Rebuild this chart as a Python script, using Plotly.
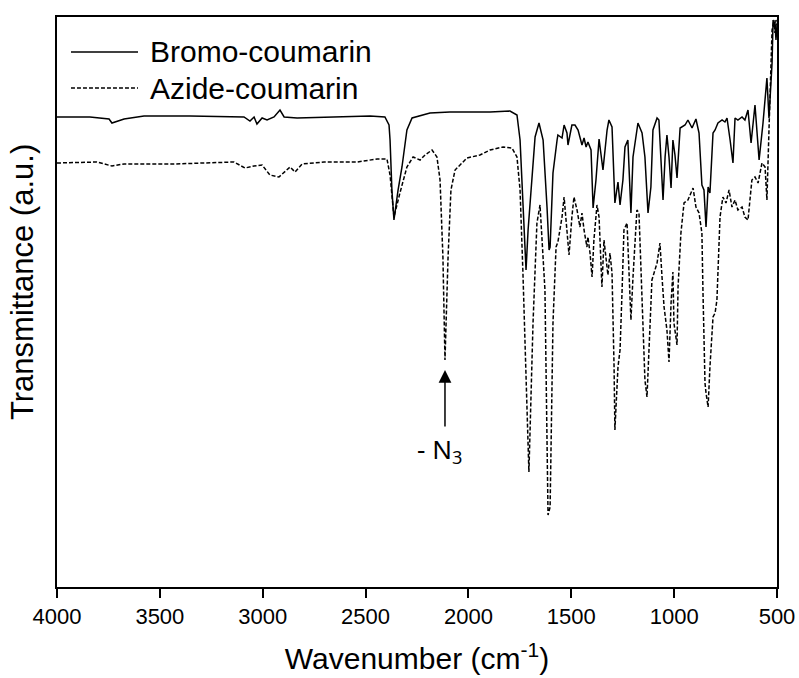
import plotly.graph_objects as go

# Bromo-coumarin (solid) — wavenumber (cm-1) and transmittance (a.u.)
bromo_wn = [4000, 3840, 3747, 3733, 3674, 3577, 3354, 3091, 3062, 3042, 3028, 3003, 2979, 2945, 2916,
            2896, 2833, 2624, 2478, 2406, 2386, 2381, 2372, 2362, 2342, 2323, 2299, 2274, 2187, 2090,
            1992, 1895, 1798, 1764, 1749, 1735, 1720, 1710, 1691, 1676, 1657, 1637, 1618, 1608, 1603,
            1589, 1569, 1565, 1545, 1535, 1521, 1516, 1497, 1482, 1467, 1448, 1438, 1428, 1419, 1404,
            1394, 1380, 1365, 1346, 1326, 1317, 1302, 1288, 1273, 1263, 1249, 1239, 1225, 1210, 1200,
            1176, 1156, 1142, 1127, 1113, 1103, 1083, 1074, 1054, 1044, 1035, 1025, 1015, 1006, 996,
            986, 971, 947, 933, 913, 894, 879, 865, 855, 845, 835, 826, 811, 801, 787, 767, 753, 743,
            728, 714, 704, 690, 670, 656, 641, 626, 607, 587, 568, 549, 539, 524, 519, 515, 510, 505, 500]
bromo_t = [468, 468, 466, 462, 466, 469, 469, 468, 464, 468, 461, 467, 465, 468, 475,
           468, 467, 468, 469, 468, 460, 445, 395, 365, 395, 418, 455, 467, 472, 473,
           473, 473, 474, 470, 445, 378, 315, 355, 412, 448, 462, 445, 378, 335, 338,
           412, 445, 450, 447, 460, 452, 440, 460, 460, 455, 440, 447, 438, 443, 435,
           377, 405, 446, 415, 455, 465, 458, 382, 403, 380, 405, 438, 445, 372, 428,
           462, 452, 428, 372, 398, 455, 467, 465, 385, 428, 450, 428, 397, 445, 430,
           407, 457, 460, 465, 457, 466, 452, 400, 395, 358, 398, 392, 452, 455, 462, 465, 463, 467,
           445, 422, 467, 465, 468, 465, 475, 442, 480, 425, 462, 507, 467, 522, 565, 558, 563, 545, 560]

# Azide-coumarin (dashed)
azide_wn = [4000, 3806, 3733, 3674, 3431, 3222, 3140, 3086, 3042, 3003, 2965, 2921, 2882, 2867, 2843,
            2809, 2702, 2542, 2444, 2396, 2381, 2372, 2362, 2333, 2299, 2269, 2235, 2211, 2177, 2153,
            2138, 2124, 2114, 2099, 2085, 2065, 2007, 1944, 1895, 1832, 1788, 1764, 1749, 1735, 1706,
            1686, 1667, 1652, 1628, 1613, 1603, 1589, 1574, 1565, 1545, 1535, 1521, 1511, 1497, 1487,
            1472, 1458, 1448, 1438, 1424, 1419, 1409, 1399, 1390, 1375, 1365, 1351, 1341, 1331, 1322,
            1312, 1302, 1292, 1288, 1273, 1263, 1253, 1244, 1229, 1225, 1210, 1200, 1181, 1171, 1156,
            1142, 1132, 1122, 1108, 1083, 1069, 1059, 1049, 1035, 1025, 1015, 1006, 1001, 986, 981,
            967, 952, 933, 908, 894, 879, 865, 860, 850, 845, 835, 826, 811, 801, 792, 777, 763, 748,
            733, 719, 704, 690, 670, 656, 641, 622, 607, 592, 573, 558, 549, 539, 529, 524, 515, 510, 505, 500]
azide_t = [422, 423, 419, 421, 421, 422, 423, 417, 419, 420, 410, 408, 415, 418, 413,
           421, 423, 423, 426, 426, 410, 390, 368, 392, 418, 428, 425, 430, 435, 428,
           405, 328, 225, 328, 395, 415, 427, 430, 435, 438, 437, 428, 395, 312, 113,
           262, 362, 380, 295, 70, 78, 262, 338, 343, 368, 388, 355, 330, 368, 388,
           375, 358, 372, 355, 338, 348, 332, 308, 345, 380, 368, 298, 345, 328, 310,
           332, 312, 218, 155, 218, 235, 295, 355, 362, 338, 265, 308, 375, 372, 288,
           205, 188, 242, 305, 322, 342, 308, 278, 255, 223, 282, 313, 262, 240, 298,
           352, 382, 385, 397, 378, 372, 352, 295, 202, 192, 178, 218, 268, 272, 285, 368, 388, 382,
           395, 378, 385, 375, 378, 368, 365, 405, 408, 402, 422, 418, 385, 455, 515, 555, 565, 552, 565, 560]

x_ticks = [4000, 3500, 3000, 2500, 2000, 1500, 1000, 500]
series_names = ["Bromo-coumarin", "Azide-coumarin"]
series_dash = ["solid", "4px,2px"]

FONT = "Liberation Sans, Arial, sans-serif"

fig = go.Figure()
fig.add_trace(go.Scatter(x=bromo_wn, y=bromo_t, mode="lines", name=series_names[0], showlegend=False,
                         line=dict(color="black", width=1.5, dash=series_dash[0])))
fig.add_trace(go.Scatter(x=azide_wn, y=azide_t, mode="lines", name=series_names[1], showlegend=False,
                         line=dict(color="black", width=1.5, dash=series_dash[1])))

# Legend (drawn in paper coordinates)
legend_y = [0.9386, 0.8754]
for name, dash, ly in zip(series_names, series_dash, legend_y):
    fig.add_shape(type="line", xref="paper", yref="paper", x0=0.0194, x1=0.1125, y0=ly, y1=ly,
                  line=dict(color="black", width=1.5, dash=dash))
    fig.add_annotation(xref="paper", yref="paper", x=0.1264, y=ly, xanchor="left", yanchor="middle",
                       text=name, showarrow=False, font=dict(family=FONT, size=30, color="black"))

# N3 arrow and label
fig.add_annotation(x=2114, y=215, ax=2114, ay=157, xref="x", yref="y", axref="x", ayref="y",
                   text="", showarrow=True, arrowhead=2, arrowsize=1.7, arrowwidth=1.5,
                   arrowcolor="black")
fig.add_annotation(x=2140, y=135, xref="x", yref="y", text="- N<sub>3</sub>", showarrow=False,
                   font=dict(family="Noto Sans, Liberation Sans, sans-serif", size=26, color="black"))

# Y-axis title
fig.add_annotation(xref="paper", yref="paper", x=0, y=0.5, xshift=-35, yshift=20, textangle=-90,
                   xanchor="center", yanchor="middle", text="Transmittance (a.u.)", showarrow=False,
                   font=dict(family=FONT, size=31, color="black"))

fig.update_layout(
    width=799, height=678,
    margin=dict(l=57, r=22, t=17, b=91),
    paper_bgcolor="white", plot_bgcolor="white",
    font=dict(family=FONT, color="black"),
    showlegend=False,
    xaxis=dict(range=[4000, 500], tickvals=x_ticks, ticks="outside", ticklen=9, tickwidth=2,
               tickcolor="black", showline=True, linecolor="black", linewidth=2, mirror=True,
               showgrid=False, zeroline=False, automargin=False,
               tickfont=dict(family=FONT, size=22, color="black"),
               title=dict(text="Wavenumber (cm<sup>-1</sup>)", font=dict(family=FONT, size=30, color="black"),
                          standoff=20)),
    yaxis=dict(range=[-2, 568], showticklabels=False, ticks="", showline=True, linecolor="black",
               linewidth=2, mirror=True, showgrid=False, zeroline=False, automargin=False),
)

fig.write_html("out.html", config={"displayModeBar": False},
               post_script="document.body.style.margin='0px';document.body.style.overflow='hidden';")
